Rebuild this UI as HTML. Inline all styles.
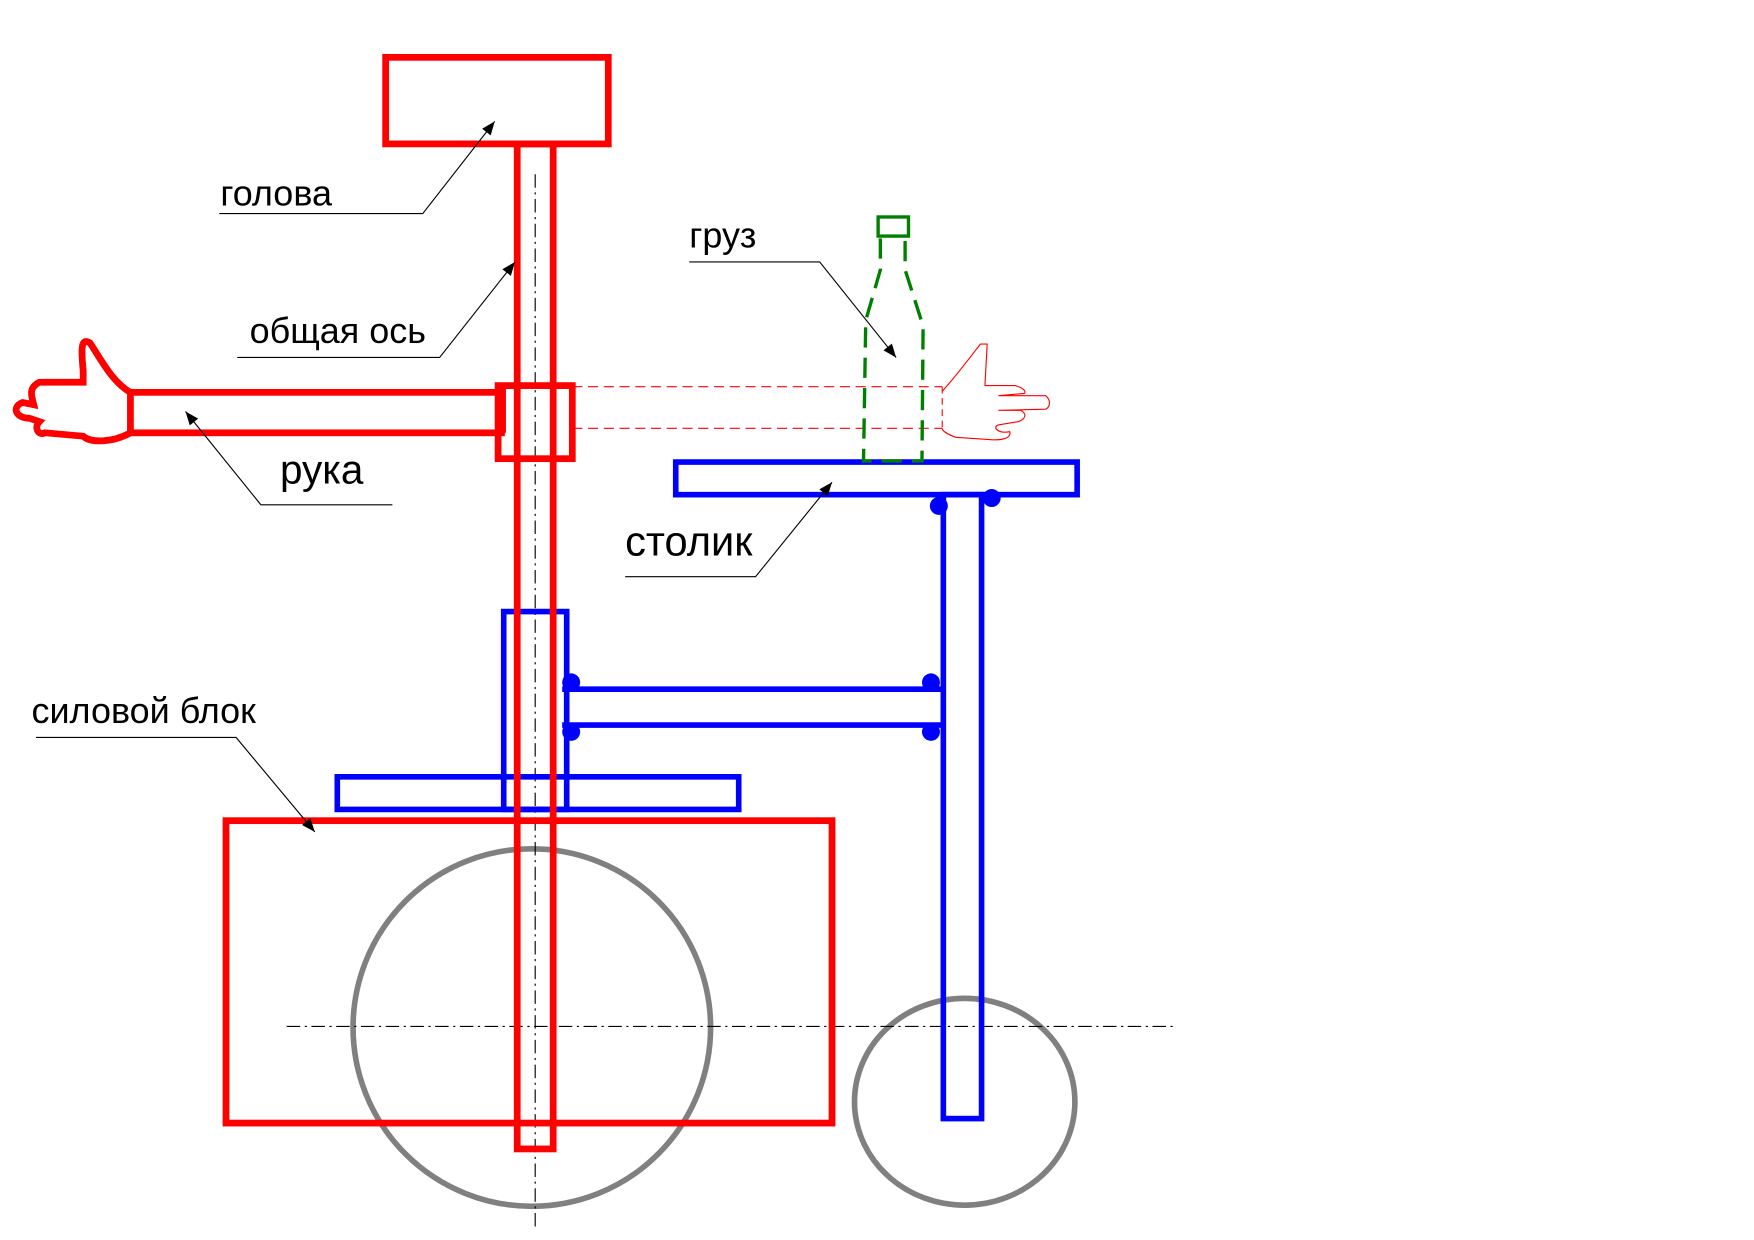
<!DOCTYPE html>
<html><head><meta charset="utf-8"><style>
html,body{margin:0;padding:0;background:#fff;}
svg{display:block;}
text{font-family:"Liberation Sans","DejaVu Sans",sans-serif;fill:#000;}
</style></head><body>
<svg width="1754" height="1240" viewBox="0 0 1560 1103" preserveAspectRatio="none" xmlns="http://www.w3.org/2000/svg">
<defs>
<marker id="ar" viewBox="0 0 10 10" refX="10" refY="5" markerWidth="22" markerHeight="12" markerUnits="userSpaceOnUse" orient="auto">
<path d="M0,1 L10,5 L0,9 z" fill="#000"/></marker>
</defs>
<circle cx="473" cy="914" r="159" fill="none" stroke="#808080" stroke-width="5"/>
<ellipse cx="858" cy="980" rx="98" ry="92" fill="none" stroke="#808080" stroke-width="5"/>
<line x1="255" y1="913" x2="1045" y2="913" stroke="#000" stroke-width="1" stroke-dasharray="12,4,2,4"/>
<line x1="476" y1="155" x2="476" y2="1095" stroke="#000" stroke-width="1" stroke-dasharray="12,4,2,4"/>
<rect x="601" y="411" width="357" height="29" fill="none" stroke="#0000ff" stroke-width="5"/>
<rect x="839" y="440" width="34" height="555" fill="none" stroke="#0000ff" stroke-width="5"/>
<rect x="448" y="544" width="56" height="176" fill="none" stroke="#0000ff" stroke-width="5"/>
<rect x="300" y="691" width="357" height="29" fill="none" stroke="#0000ff" stroke-width="5"/>
<line x1="500" y1="613" x2="839" y2="613" stroke="#0000ff" stroke-width="5"/>
<line x1="500" y1="645" x2="839" y2="645" stroke="#0000ff" stroke-width="5"/>
<g fill="#0000ff"><circle cx="508" cy="607" r="8"/><circle cx="828" cy="607" r="8"/><circle cx="508" cy="651" r="8"/><circle cx="828" cy="651" r="8"/><circle cx="835" cy="450" r="8"/><circle cx="882" cy="443" r="8"/></g>
<rect x="343" y="51" width="198" height="77" fill="none" stroke="#ff0000" stroke-width="6"/>
<rect x="460" y="128" width="32" height="894" fill="none" stroke="#ff0000" stroke-width="6"/>
<rect x="201" y="730" width="539" height="269" fill="none" stroke="#ff0000" stroke-width="6"/>
<rect x="116" y="349" width="330" height="36" fill="none" stroke="#ff0000" stroke-width="6"/>
<rect x="442" y="345" width="8" height="40" fill="#ff0000"/>
<rect x="443" y="343" width="66" height="65" fill="none" stroke="#ff0000" stroke-width="6"/>
<path d="M116,349 C100,340 90,320 80,305 C72,300 72,310 74,330 L74,340 L35,340 C25,345 28,352 30,360 L20,358 C10,362 14,372 26,372 L35,375 C30,380 34,388 40,385 L74,388 C80,394 100,394 116,385" fill="none" stroke="#ff0000" stroke-width="6"/>
<line x1="509" y1="344" x2="838" y2="344" stroke="#ff0000" stroke-width="1" stroke-dasharray="9,5"/>
<line x1="509" y1="381" x2="838" y2="381" stroke="#ff0000" stroke-width="1" stroke-dasharray="9,5"/>
<line x1="838" y1="344" x2="838" y2="381" stroke="#ff0000" stroke-width="1" stroke-dasharray="6,4"/>
<path d="M838,348 C850,335 865,315 872,306 L878,306 L876,343 L903,343 C910,345 913,348 911,350 L888,352 L930,352 C935,356 934,362 930,364 L888,365 L908,365 C913,368 913,372 906,375 L888,378 C882,380 888,386 898,384 C900,390 890,392 880,391 L850,389 C842,386 838,383 838,381" fill="none" stroke="#ff0000" stroke-width="1"/>
<rect x="781" y="193" width="27" height="17" fill="none" stroke="#008000" stroke-width="3"/>
<path d="M783,212 L783,240 L770,285 L768,410 L820,410 L821,290 L805,240 L805,212" fill="none" stroke="#008000" stroke-width="3" stroke-dasharray="18,9"/>
<g stroke="#000" stroke-width="1" fill="none">
<polyline points="195,190 376,190 440,108" marker-end="url(#ar)"/>
<polyline points="211,318 391,318 458,233" marker-end="url(#ar)"/>
<polyline points="349,449 232,449 165,366" marker-end="url(#ar)"/>
<polyline points="613,233 729,233 797,318" marker-end="url(#ar)"/>
<polyline points="556,513 672,513 740,429" marker-end="url(#ar)"/>
<polyline points="32,656 210,656 280,740" marker-end="url(#ar)"/>
</g>
<text x="196" y="183" font-size="32">голова</text>
<text x="222" y="305" font-size="32">общая ось</text>
<text x="249" y="430" font-size="36">рука</text>
<text x="613" y="220" font-size="32">груз</text>
<text x="556" y="494" font-size="37">столик</text>
<text x="28" y="643" font-size="32">силовой блок</text>
</svg>
</body></html>
